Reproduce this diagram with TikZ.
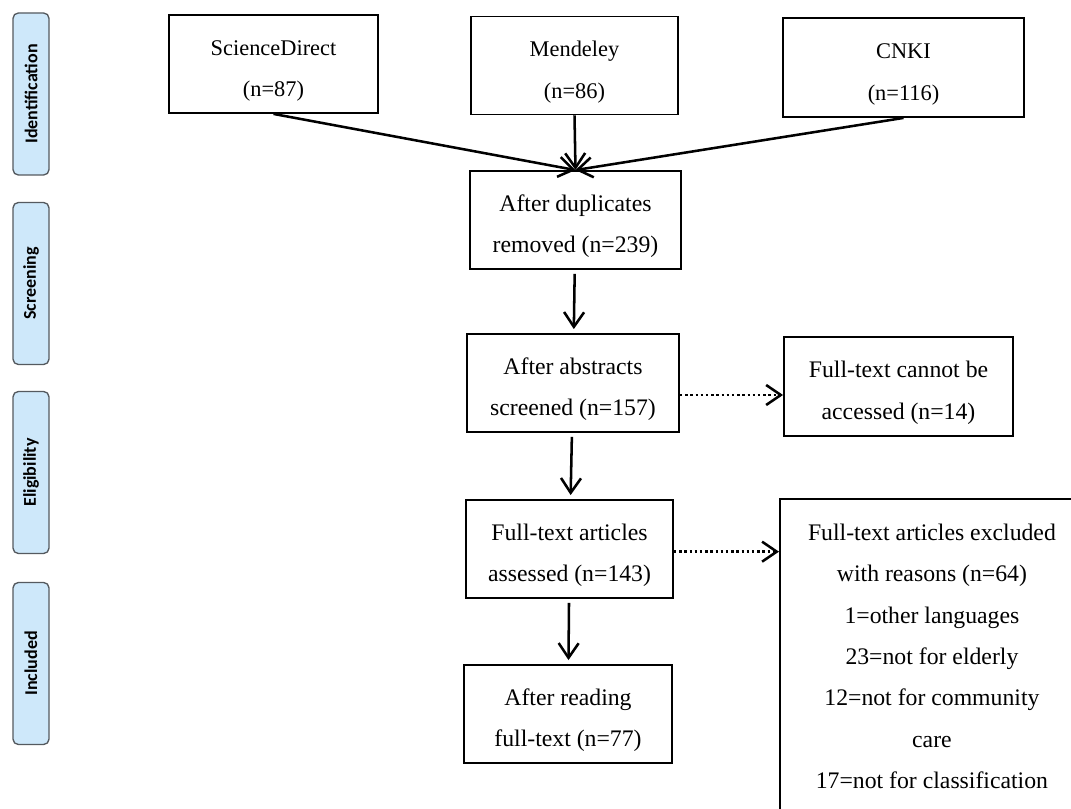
\documentclass[tikz,border=0pt]{standalone}
\usepackage{fontspec}
\setmainfont{Liberation Serif}
\newfontfamily\phasefont{Carlito}
\usepackage{xcolor}
\usetikzlibrary{arrows.meta, positioning}
\definecolor{phasefill}{RGB}{206,232,250}
\definecolor{phasedraw}{RGB}{85,90,95}
\tikzset{
    basebox/.style={rectangle, draw=black, line width=1.4pt, inner sep=0pt, align=center, minimum height=73.5pt, text height=53pt, text depth=4pt, font=\fontsize{17.8pt}{31pt}\selectfont},
    srcbox/.style={basebox, font=\fontsize{16.8pt}{31pt}\selectfont},
    stepbox/.style={basebox},
    listbox/.style={rectangle, draw=black, line width=1.4pt, inner xsep=0pt, inner ysep=18.75pt, align=center, anchor=north west, minimum width=228pt, font=\fontsize{17.8pt}{31pt}\selectfont},
    phase/.style={rectangle, rounded corners=4pt, draw=phasedraw, line width=1pt, fill=phasefill, rotate=90, minimum width=121.5pt, minimum height=27pt, inner sep=0pt, font=\phasefont\bfseries\fontsize{13.5pt}{15pt}\selectfont},
    arrow/.style={line width=1.9pt, -{Straight Barb[length=11pt, width=15pt, line width=1.9pt]}},
    dotarrow/.style={arrow, dotted}
}

\begin{document}
\begin{tikzpicture}[x=0.75pt, y=-0.75pt]
    \useasboundingbox (0,0) rectangle (1071,809);
    \fill [white] (0,0) rectangle (1071,809);

    % phase labels on the left
    \node (ident) [phase] at (31,94) {Identification};
    \node (screen) [phase] at (31,283.5) {Screening};
    \node (elig) [phase] at (31,472.5) {Eligibility};
    \node (incl) [phase] at (31,663.5) {Included};

    % databases
    \node (scidir) [srcbox, minimum width=156.75pt] at (273.5,64) {ScienceDirect\\(n=87)};
    \node (mendeley) [srcbox, minimum width=155.25pt] at (574.5,65.5) {Mendeley\\(n=86)};
    \node (cnki) [srcbox, minimum width=180.75pt, minimum height=74.25pt] at (903.5,67.5) {CNKI\\(n=116)};

    % main flow
    \node (dedup) [stepbox, minimum width=158.25pt] at (575.5,220) {After duplicates\\removed (n=239)};
    \node (abstr) [stepbox, minimum width=159pt] at (573,383) {After abstracts\\screened (n=157)};
    \node (noaccess) [stepbox, minimum width=171.75pt, minimum height=74.25pt] at (898.5,386.5) {Full-text cannot be\\accessed (n=14)};
    \node (assess) [stepbox, minimum width=155.25pt] at (569.5,549) {Full-text articles\\assessed (n=143)};
    \node (reading) [stepbox, minimum width=156pt] at (568,714) {After reading\\full-text (n=77)};
    \node (excl) [listbox] at (779,498) {Full-text articles excluded\\with reasons (n=64)\\1=other languages\\23=not for elderly\\12=not for community\\care\\17=not for classification};

    \draw [arrow] (scidir.south) -- (dedup.north);
    \draw [arrow] (mendeley.south) -- (dedup.north);
    \draw [arrow] (cnki.south) -- (dedup.north);
    \draw [arrow, shorten <=3pt, shorten >=3pt] (dedup) -- (abstr);
    \draw [arrow, shorten <=3pt, shorten >=3pt] (abstr) -- (assess);
    \draw [arrow, shorten <=3pt, shorten >=3pt] (assess) -- (reading);
    \draw [dotarrow] ([yshift=-9pt]abstr.east) -- ([yshift=-9pt]abstr.east -| noaccess.west);
    \draw [dotarrow] ([yshift=-2pt]assess.east) -- ([yshift=-2pt]assess.east -| excl.west);
\end{tikzpicture}
\end{document}
